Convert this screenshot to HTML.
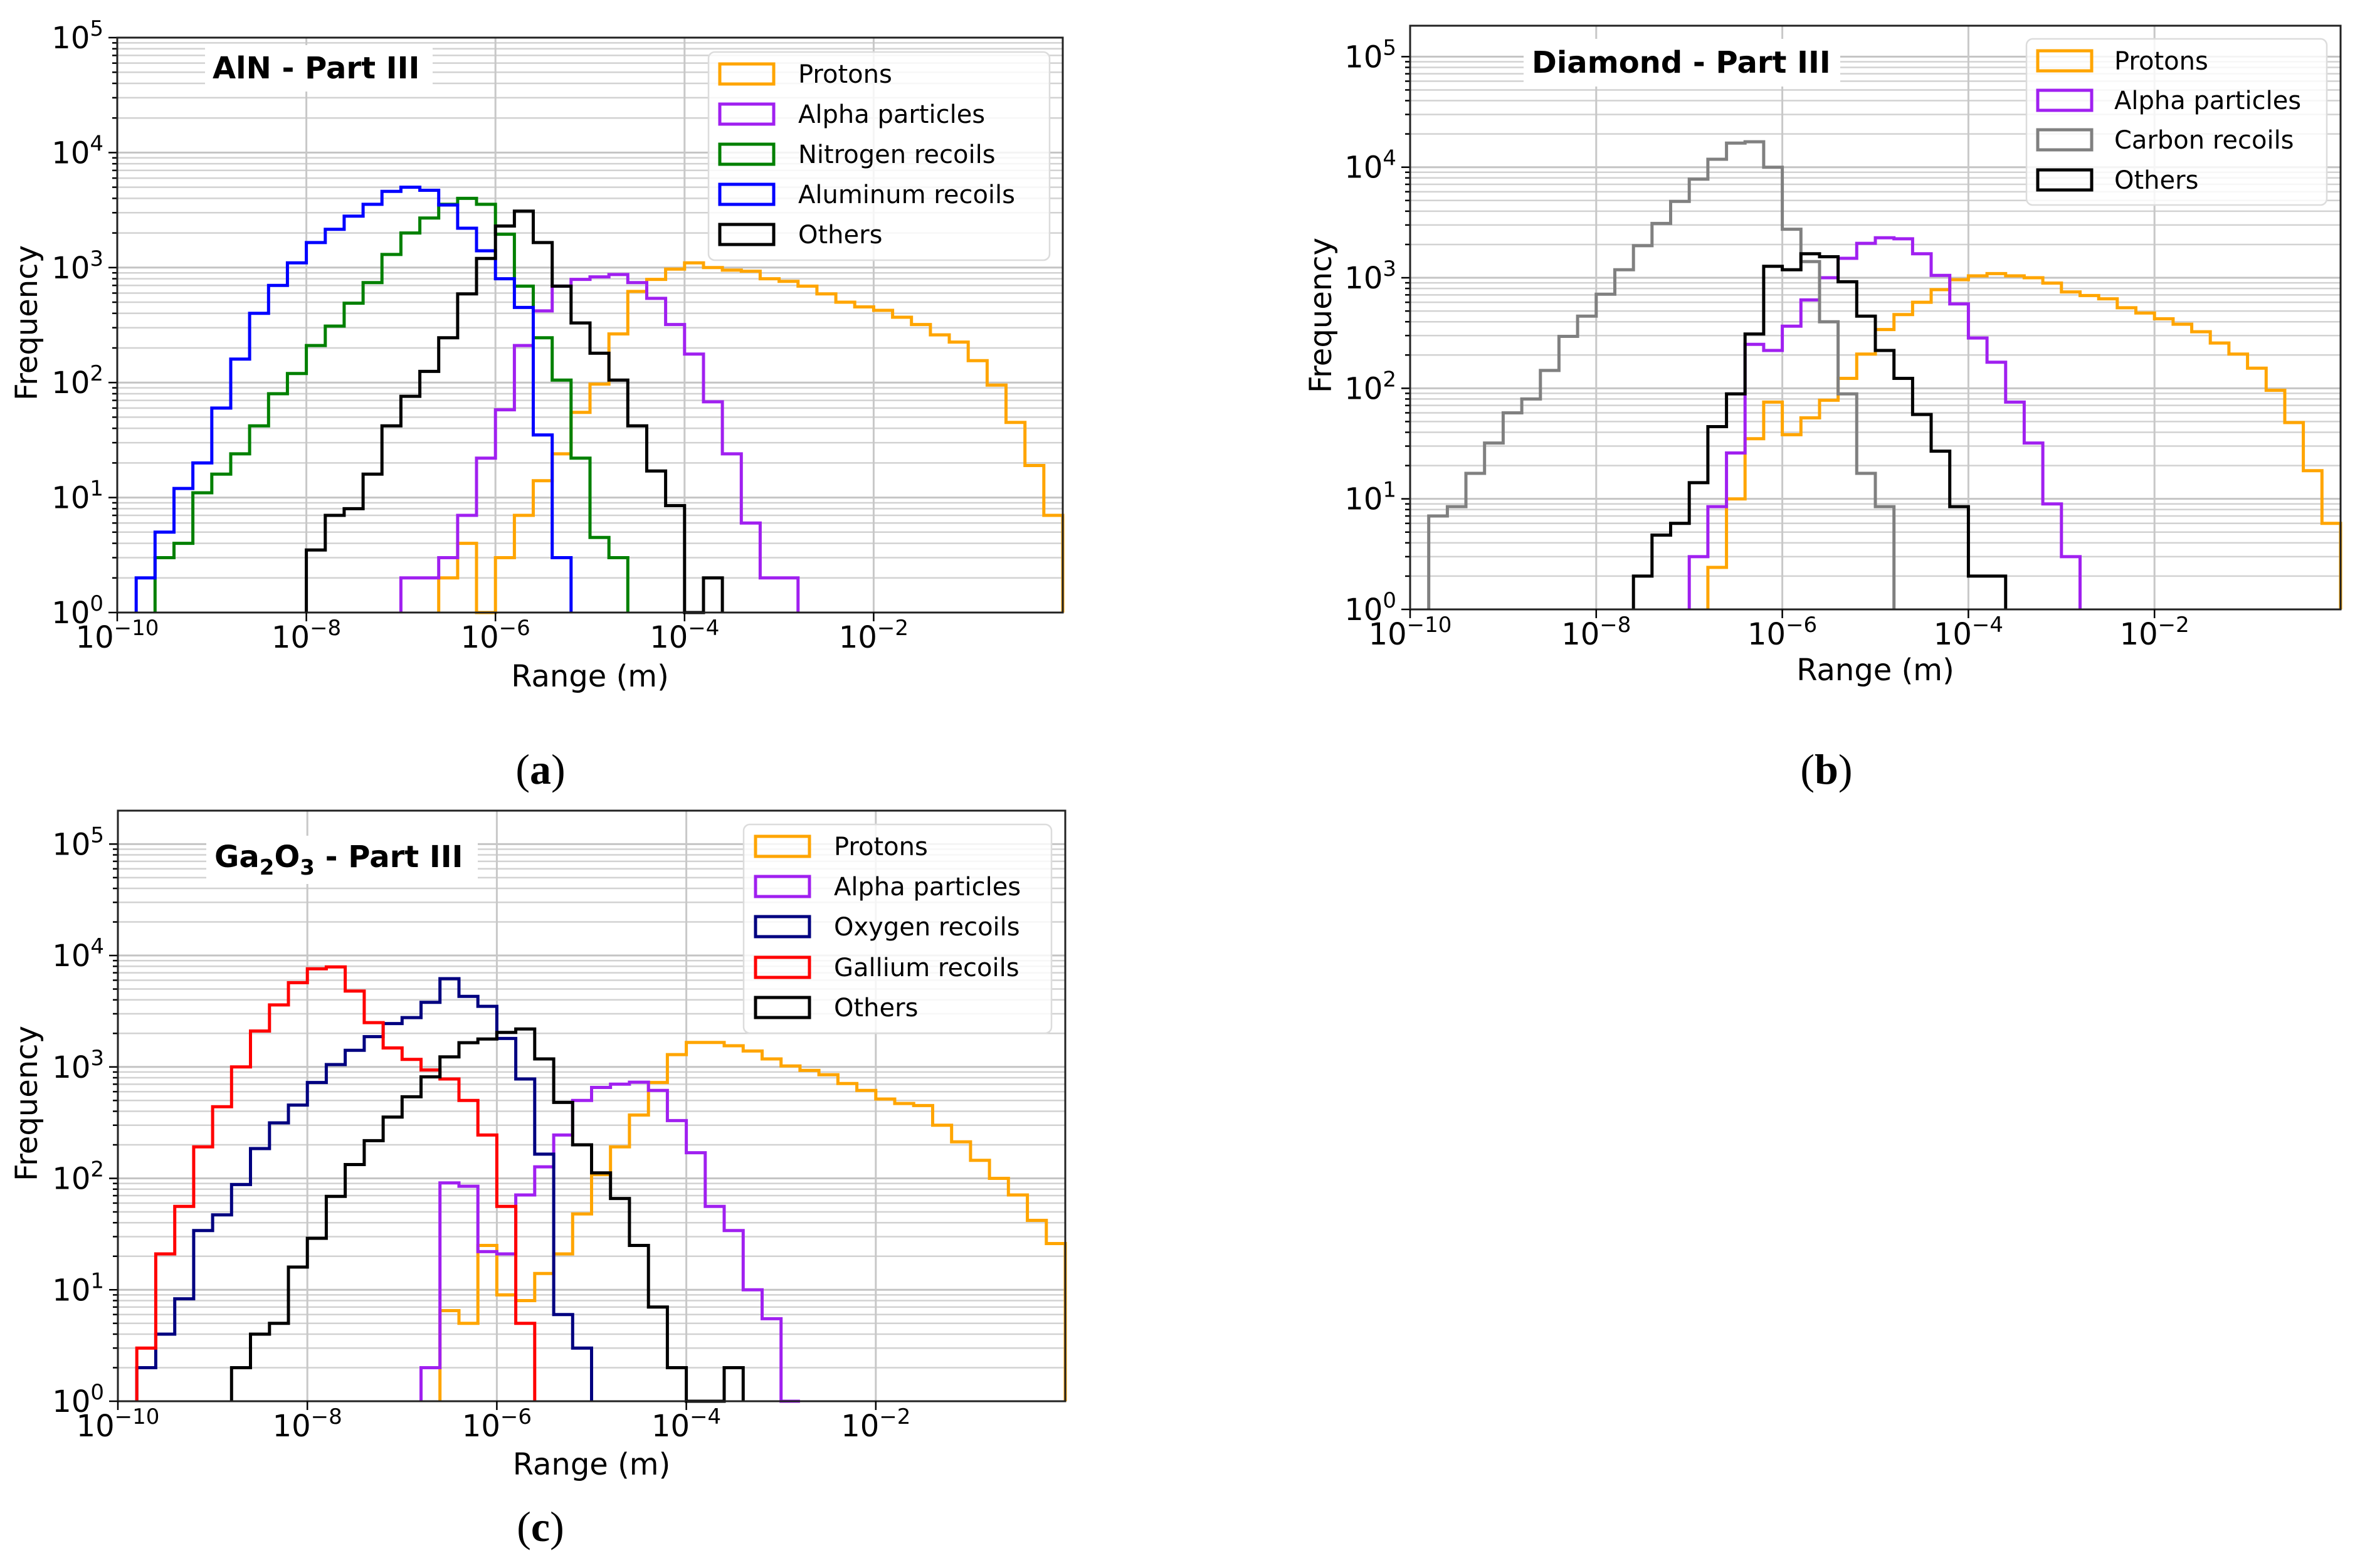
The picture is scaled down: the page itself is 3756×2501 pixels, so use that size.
<!DOCTYPE html>
<html><head><meta charset="utf-8">
<style>
html,body{margin:0;padding:0;background:#fff;}
svg{display:block;}
text{font-family:"DejaVu Sans","Liberation Sans",sans-serif;}
</style></head>
<body>
<svg id="fig" xmlns="http://www.w3.org/2000/svg" width="3756" height="2501" viewBox="0 0 3756 2501">
<rect x="0" y="0" width="3756" height="2501" fill="#fff"/>
<text x="862" y="1250" font-size="68" text-anchor="middle" style="font-family:'Liberation Serif',serif">(<tspan font-weight="bold">a</tspan>)</text>
<text x="2913" y="1250" font-size="68" text-anchor="middle" style="font-family:'Liberation Serif',serif">(<tspan font-weight="bold">b</tspan>)</text>
<text x="862" y="2458" font-size="68" text-anchor="middle" style="font-family:'Liberation Serif',serif">(<tspan font-weight="bold">c</tspan>)</text>
</svg>
<script>
// ---- shared bin definition ----
const binWidthDecades = 0.2;
// ---- Panel a: AlN ----
const protonsA_start = -6.6;
const protonsA = [2,4,1,3,7,14,24,55,97,265,620,790,970,1100,1000,950,930,800,760,690,590,500,455,425,370,320,260,225,155,95,45,19,7];
const alphaA_start = -7.0;
const alphaA = [2,2,3,7,22,58,210,420,690,790,830,870,740,540,320,177,68,24,6,2,2];
const nitrogenA_start = -9.6;
const nitrogenA = [3,4,11,16,24,42,80,120,210,310,490,740,1300,2000,2700,3550,4000,3550,1950,690,245,105,22,4.5,3];
const aluminumA_start = -9.8;
const aluminumA = [2,5,12,20,60,160,400,700,1100,1650,2150,2800,3550,4600,5000,4700,3500,2200,1400,800,450,35,3];
const othersA_start = -8.0;
const othersA = [3.5,7,8,16,42,76,125,245,590,1200,2300,3100,1650,690,330,180,105,42,17,8.5,1,2];
// ---- Panel b: Diamond ----
const protonsB_start = -6.8;
const protonsB = [2.4,10,35,75,38,54,78,123,204,340,465,600,780,960,1040,1090,1040,1000,895,745,690,645,535,480,425,380,325,257,204,152,96,49,18,6];
const alphaB_start = -7.0;
const alphaB = [3,8.5,26,250,220,365,630,1000,1500,2050,2300,2250,1650,1050,580,285,172,75,32,9,3];
const carbonB_start = -9.8;
const carbonB = [7,8.5,17,32,60,80,145,295,450,710,1180,1950,3100,4900,7800,11800,16500,17000,10000,2750,1400,400,89,17,8.5];
const othersB_start = -7.6;
const othersB = [2,4.7,6,14,45,89,310,1270,1180,1650,1550,920,450,220,123,58,27,8.5,2,2];
// ---- Panel c: Ga2O3 ----
const protonsC_start = -6.6;
const protonsC = [6.5,5,25,9,8,14,21,48,108,192,370,725,1290,1660,1660,1550,1390,1180,1020,930,850,710,615,515,470,450,300,213,145,100,71,42,26];
const alphaC_start = -6.8;
const alphaC = [2,91,85,22,21,71,127,245,500,655,700,730,615,330,170,56,34,10,5.5,1];
const oxygenC_start = -9.8;
const oxygenC = [2,4,8.3,34,47,88,185,315,455,725,1050,1410,1870,2450,2770,3800,6200,4300,3500,1800,780,165,6,3];
const galliumC_start = -9.8;
const galliumC = [3,21,56,192,440,1000,2100,3600,5700,7600,7900,4800,2500,1480,1170,940,780,500,245,56,5];
const othersC_start = -8.8;
const othersC = [2,4,5,16,29,69,133,218,355,540,815,1230,1650,1780,2040,2190,1180,480,200,112,66,25,7,2,1,0,2];
// ---- tick labels ----
const xTickExps = [-10,-8,-6,-4,-2];
const yTickExps = [0,1,2,3,4,5];

const NS = "http://www.w3.org/2000/svg";
const svg = document.getElementById('fig');
function mk(tag, attrs, parent){
  const e = document.createElementNS(NS, tag);
  for (const k in attrs) e.setAttribute(k, attrs[k]);
  (parent||svg).appendChild(e);
  return e;
}

const panels = [
  {id:'a', L:187, R:1695, T:60, B:977, xmin:-10, xmax:0, ymax:5.0,
   title:'AlN - Part III', titleX:339, titleY:125, box:[327,72,363,74],
   legend:{x:1130,y:83,w:544,h:332,hx:1145,tx:1273,rows:[118,182,246,310,374]},
   series:[['Protons','#FFA500',protonsA_start,protonsA],['Alpha particles','#A020F0',alphaA_start,alphaA],['Nitrogen recoils','#008000',nitrogenA_start,nitrogenA],['Aluminum recoils','#0000FF',aluminumA_start,aluminumA],['Others','#000000',othersA_start,othersA]],
   ylabX:43, ylabY:515, xlabY:1095},
  {id:'b', L:2249, R:3733, T:41, B:972, xmin:-10, xmax:0, ymax:5.28,
   title:'Diamond - Part III', titleX:2443, titleY:116, box:[2430,62,505,76],
   legend:{x:3232,y:62,w:479,h:265,hx:3247,tx:3372,rows:[97,160,223,287]},
   series:[['Protons','#FFA500',protonsB_start,protonsB],['Alpha particles','#A020F0',alphaB_start,alphaB],['Carbon recoils','#808080',carbonB_start,carbonB],['Others','#000000',othersB_start,othersB]],
   ylabX:2107, ylabY:503, xlabY:1085},
  {id:'c', L:188, R:1699, T:1293, B:2235, xmin:-10, xmax:0, ymax:5.3,
   title:'Ga2O3', titleX:342, titleY:1383, box:[329,1333,433,77],
   legend:{x:1186,y:1315,w:491,h:333,hx:1202,tx:1330,rows:[1350,1414,1478,1543,1607]},
   series:[['Protons','#FFA500',protonsC_start,protonsC],['Alpha particles','#A020F0',alphaC_start,alphaC],['Oxygen recoils','#000080',oxygenC_start,oxygenC],['Gallium recoils','#FF0000',galliumC_start,galliumC],['Others','#000000',othersC_start,othersC]],
   ylabX:43, ylabY:1760, xlabY:2352}
];

panels.forEach(p => {
  const g = mk('g', {});
  
  
  const xs = v => p.L + (v - p.xmin) / (p.xmax - p.xmin) * (p.R - p.L);
  const ys = lv => p.B - lv / p.ymax * (p.B - p.T);
  const yc = c => ys(c >= 1 ? Math.log10(c) : 0);
  // grid: minor y
  for (let d = 0; d < 6; d++) {
    for (let m = 1; m <= 9; m++) {
      const lv = d + Math.log10(m);
      if (lv > p.ymax + 1e-6) continue;
      const y = ys(lv);
      const gl = mk('line', {x1:p.L, x2:p.R, y1:y, y2:y, stroke: m===1 ? '#c4c4c4' : '#d2d2d2', 'stroke-width': m===1 ? 3 : 2.5}, g);
      
      
      const tk = mk('line', {x1:p.L - (m===1?14:8), x2:p.L, y1:y, y2:y, stroke:'#000', 'stroke-width':2.5}, g);
      
      
    }
  }
  xTickExps.forEach(e => {
    const x = xs(e);
    const gl = mk('line', {x1:x, x2:x, y1:p.T, y2:p.B, stroke:'#c8c8c8', 'stroke-width':3}, g);
    
    
  });
  // title box
  const tb = mk('rect', {x:p.box[0], y:p.box[1], width:p.box[2], height:p.box[3], fill:'#fff'}, g);
  
  
  const tt = mk('text', {x:p.titleX, y:p.titleY, 'font-size':48, 'font-weight':'bold'}, g);
  
  
  if (p.id === 'c') {
    tt.innerHTML = 'Ga<tspan font-size="34" dy="12">2</tspan><tspan dy="-12">O</tspan><tspan font-size="34" dy="12">3</tspan><tspan dy="-12"> - Part III</tspan>';
  } else {
    tt.textContent = p.title;
  }
  // series
  p.series.forEach(s => {
    const [name, color, start, counts] = s;
    let d = 'M' + xs(start).toFixed(1) + ' ' + p.B;
    counts.forEach((c, i) => {
      const x0 = xs(start + i * binWidthDecades), x1 = xs(start + (i + 1) * binWidthDecades);
      const y = yc(c);
      d += ' L' + x0.toFixed(1) + ' ' + y.toFixed(1) + ' L' + x1.toFixed(1) + ' ' + y.toFixed(1);
    });
    d += ' L' + xs(start + counts.length * binWidthDecades).toFixed(1) + ' ' + p.B;
    const path = mk('path', {d:d, fill:'none', stroke:color, 'stroke-width':5, 'stroke-linejoin':'miter'}, g);
    
    
  });
  // frame
  const fr = mk('rect', {x:p.L, y:p.T, width:p.R - p.L, height:p.B - p.T, fill:'none', stroke:'#222', 'stroke-width':3}, g);
  
  
  // x ticks & labels
  xTickExps.forEach(e => {
    const x = xs(e);
    const tk = mk('line', {x1:x, x2:x, y1:p.B, y2:p.B + 14, stroke:'#000', 'stroke-width':2.5}, g);
    
    
    const t = mk('text', {x:x, y:p.B + 56, 'font-size':48, 'text-anchor':'middle'}, g);
    
    
    t.innerHTML = '10<tspan font-size="34" dy="-20">\u2212' + (-e) + '</tspan>';
  });
  yTickExps.forEach(e => {
    if (e > p.ymax) return;
    const y = ys(e);
    const t = mk('text', {x:p.L - 22, y:y + 17, 'font-size':48, 'text-anchor':'end'}, g);
    
    
    t.innerHTML = '10<tspan font-size="34" dy="-20">' + e + '</tspan>';
  });
  // axis labels
  const xl = mk('text', {x:(p.L + p.R) / 2, y:p.xlabY, 'font-size':48, 'text-anchor':'middle'}, g);
  
  
  xl.textContent = 'Range (m)';
  const yl = mk('text', {x:p.ylabX, y:p.ylabY, 'font-size':48, 'text-anchor':'middle', 'dominant-baseline':'central', transform:'rotate(-90 ' + p.ylabX + ' ' + p.ylabY + ')'}, g);
  
  
  yl.textContent = 'Frequency';
  // legend
  const lg = p.legend;
  const lb = mk('rect', {x:lg.x, y:lg.y, width:lg.w, height:lg.h, rx:10, fill:'rgba(255,255,255,0.82)', stroke:'#dcdcdc', 'stroke-width':2.5}, g);
  
  
  p.series.forEach((s, i) => {
    const cy = lg.rows[i];
    const h = mk('rect', {x:lg.hx + 3, y:cy - 16, width:86, height:32, fill:'none', stroke:s[1], 'stroke-width':5}, g);
    
    
    const t = mk('text', {x:lg.tx, y:cy + 14, 'font-size':40}, g);
    
    
    t.textContent = s[0];
  });
});
</script>
</body></html>
